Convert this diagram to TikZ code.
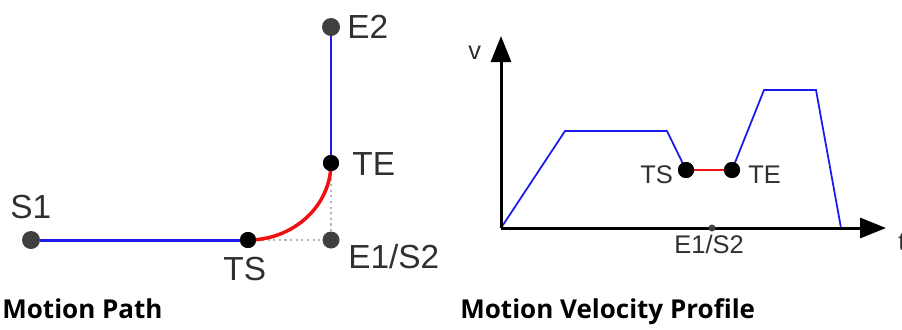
\documentclass[tikz,border=0pt]{standalone}
\usepackage{xcolor}
\usepackage{tikz}
\usetikzlibrary{arrows.meta}
\usepackage{fontspec}
\setmainfont{Liberation Sans}
\newfontfamily\captionfont{Open Sans}
\definecolor{pathblue}{HTML}{1A1AF0}
\definecolor{blendred}{HTML}{F01010}
\definecolor{pointgray}{HTML}{404040}
\definecolor{guidegray}{HTML}{B4B4B4}
\definecolor{labelgray}{HTML}{303030}
\tikzset{
  endpt/.style={circle,fill=pointgray,inner sep=0pt,minimum size=0.36cm},
  blendpt/.style={circle,fill=black,inner sep=0pt,minimum size=0.32cm},
  lbl/.style={anchor=base west,inner sep=0pt,text=labelgray,font=\fontsize{19}{19}\selectfont},
  lblsmall/.style={lbl,font=\fontsize{14.5}{14.5}\selectfont},
  caption/.style={anchor=base west,inner sep=0pt,font=\captionfont\bfseries\fontsize{14.8}{16}\selectfont}
}

\begin{document}
\begin{tikzpicture}[x=0.02cm,y=-0.02cm]
  \useasboundingbox (0,0) rectangle (902,329);
  % motion path
  \node[endpt] (S1) at (31,240) {};
  \node[endpt] (E2) at (331,27) {};
  \node[endpt,minimum size=0.34cm] (E1S2) at (331,240) {};
  \node[blendpt] (TS) at (248,240) {};
  \node[blendpt] (TE) at (331,163) {};
  \draw[guidegray,line width=1.2pt,dotted] (TS) -- (E1S2) -- (TE);
  \draw[pathblue,line width=1.7pt] (S1) -- (TS);
  \draw[pathblue,line width=1.7pt] (TE) -- (E2);
  \draw[blendred,line width=2pt] (TS.center) .. controls +(0.92cm,0) and +(0,-0.85cm) .. (TE.center);
  \node[blendpt] at (TS) {};
  \node[blendpt] at (TE) {};
  \node[lbl] (lS1) at (10,218) {S1};
  \node[lbl] (lE2) at (347,38) {E2};
  \node[lbl] (lTE) at (352,175) {TE};
  \node[lbl] (lTS) at (223,280) {TS};
  \node[lbl] (lE1S2) at (348,268) {E1/S2};
  \node[caption] (cpath) at (2,318) {Motion Path};
  % velocity profile
  \coordinate (O) at (501,228);
  \coordinate (vtip) at (501,36);
  \coordinate (ttip) at (886,228);
  \coordinate (p1) at (565,131);
  \coordinate (p2) at (667,131);
  \coordinate (p3) at (764,90);
  \coordinate (p4) at (816,90);
  \coordinate (p5) at (841,228);
  \node[blendpt] (vTS) at (686,170) {};
  \node[blendpt] (vTE) at (732,170) {};
  \draw[pathblue,line width=1pt] (O) -- (p1) -- (p2) -- (vTS.center);
  \draw[pathblue,line width=1pt] (vTE.center) -- (p3) -- (p4) -- (p5);
  \draw[blendred,line width=1.5pt] (vTS) -- (vTE);
  \node[blendpt] at (vTS) {};
  \node[blendpt] at (vTE) {};
  \draw[black,line width=1.7pt,-{Triangle[length=0.52cm,width=0.4cm]}] (O) -- (vtip);
  \draw[black,line width=1.7pt,-{Triangle[length=0.52cm,width=0.4cm]}] (O) -- (ttip);
  \node[circle,fill=pointgray,inner sep=0pt,minimum size=0.14cm] (vE1S2) at (712,228) {};
  \node[lblsmall] (lv) at (468,59) {v};
  \node[lblsmall] (lt) at (898,250) {t};
  \node[lblsmall] (lvTS) at (640,183) {TS};
  \node[lblsmall] (lvTE) at (748,183) {TE};
  \node[lblsmall] (lvE1S2) at (674,253) {E1/S2};
  \node[caption] (cprofile) at (460,318) {Motion Velocity Profile};
\end{tikzpicture}
\end{document}
